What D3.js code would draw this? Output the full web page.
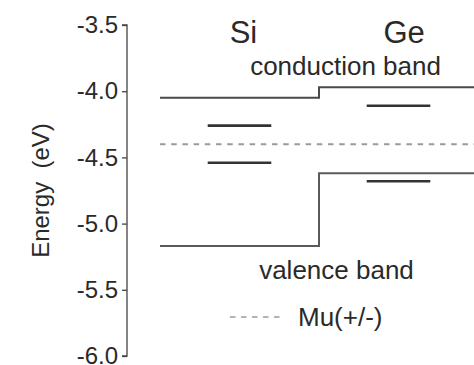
<!DOCTYPE html>
<html>
<head>
<meta charset="utf-8">
<script src="https://cdn.jsdelivr.net/npm/d3@7"></script>
<style>
  html, body { margin: 0; padding: 0; background: #fff; }
  svg { display: block; font-family: "Liberation Sans", Arial, sans-serif; }
</style>
</head>
<body>
<svg id="chart" width="474" height="365"></svg>
<script>
// ---- data ----
const materials = ["Si", "Ge"];
const conductionBand = [-4.05, -3.97];
const valenceBand = [-5.17, -4.62];
const upperLevel = [-4.26, -4.11];
const lowerLevel = [-4.54, -4.68];
const muLevel = [-4.40];
const yTicks = [-3.5, -4.0, -4.5, -5.0, -5.5, -6.0];
const bandLabels = ["conduction band", "valence band"];
const legendLabel = ["Mu(+/-)"];
const yTitle = "Energy  (eV)";

// ---- layout ----
const svg = d3.select("#chart");
const y = d3.scaleLinear().domain([-6, -3.5]).range([356, 25]);
const x = d3.scaleLinear().domain([0, 2]).range([160, 478]);
const axisX = 127;

// y axis
const yAxis = d3.axisLeft(y).tickValues(yTicks).tickSize(5).tickPadding(4)
  .tickFormat(d => d.toFixed(1));
const gAxis = svg.append("g").attr("transform", `translate(${axisX},0)`).call(yAxis);
gAxis.select(".domain").attr("stroke", "#444").attr("stroke-width", 1.3)
  .attr("d", `M-5,${y(-3.5)}H0V${y(-6)}H-5`);
gAxis.selectAll(".tick line").attr("stroke", "#444").attr("stroke-width", 1.3);
gAxis.selectAll(".tick text").attr("fill", "#2a2a2a").style("font-size", "24px")
  .style("font-family", "'Liberation Sans', Arial, sans-serif");

svg.append("text")
  .attr("transform", `translate(49,${y(-4.75)}) rotate(-90)`)
  .attr("text-anchor", "middle")
  .attr("fill", "#2a2a2a")
  .style("font-size", "24px")
  .style("white-space", "pre")
  .text(yTitle);

// mu dashed line
svg.append("line")
  .attr("x1", x(0)).attr("x2", x(2))
  .attr("y1", y(muLevel[0])).attr("y2", y(muLevel[0]))
  .attr("stroke", "#9a9a9a").attr("stroke-width", 2)
  .attr("stroke-dasharray", "5.5,5.7");

// band edges as step paths
const bandPts = v => [[0, v[0]], [1, v[0]], [1, v[1]], [2, v[1]]];
const lineGen = d3.line().x(d => x(d[0])).y(d => y(d[1]));
svg.append("path").attr("d", lineGen(bandPts(conductionBand)))
  .attr("fill", "none").attr("stroke", "#4a4a4a").attr("stroke-width", 2);
svg.append("path").attr("d", lineGen(bandPts(valenceBand)))
  .attr("fill", "none").attr("stroke", "#5a5a5a").attr("stroke-width", 2);

// defect levels
const levelSpan = [0.3, 0.7];
[upperLevel, lowerLevel].forEach(lv => {
  svg.selectAll(null).data(lv).enter().append("line")
    .attr("x1", (d, i) => x(i + levelSpan[0]))
    .attr("x2", (d, i) => x(i + levelSpan[1]))
    .attr("y1", d => y(d)).attr("y2", d => y(d))
    .attr("stroke", "#333").attr("stroke-width", 2.6);
});

// material labels
const matCenter = [0.525, 1.535];
svg.selectAll(null).data(materials).enter().append("text")
  .attr("x", (d, i) => x(matCenter[i]))
  .attr("y", 43)
  .attr("text-anchor", "middle")
  .attr("fill", "#2a2a2a")
  .style("font-size", "31px")
  .text(d => d);

// band labels
svg.append("text").attr("x", x(1.167)).attr("y", 75)
  .attr("text-anchor", "middle").attr("fill", "#2a2a2a").style("font-size", "26px")
  .text(bandLabels[0]);
svg.append("text").attr("x", x(1.11)).attr("y", 279)
  .attr("text-anchor", "middle").attr("fill", "#2a2a2a").style("font-size", "26px")
  .text(bandLabels[1]);

// legend
const legY = 317;
svg.append("line").attr("x1", 230).attr("x2", 284).attr("y1", legY).attr("y2", legY)
  .attr("stroke", "#9a9a9a").attr("stroke-width", 1.5).attr("stroke-dasharray", "5.5,5.5");
svg.append("text").attr("x", 298).attr("y", 326)
  .attr("fill", "#2a2a2a").style("font-size", "26px")
  .text(legendLabel[0]);
</script>
</body>
</html>
